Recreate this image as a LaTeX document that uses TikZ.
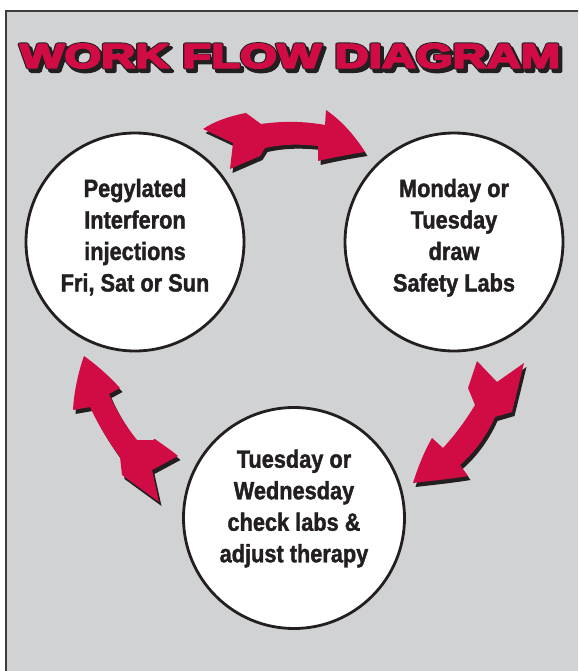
\documentclass[tikz,border=0pt]{standalone}
\usepackage{fontspec}
\usepackage{graphicx}
\usetikzlibrary{calc}
\setmainfont{Liberation Sans}
\newfontfamily\condfont[FakeStretch=0.87, BoldFeatures={FakeBold=1.5}]{Liberation Sans}
\newfontfamily\titlered[BoldFeatures={FakeBold=5}]{Liberation Sans}
\newfontfamily\titleline[BoldFeatures={FakeBold=10}]{Liberation Sans}
\definecolor{wfred}{RGB}{209,12,69}
\definecolor{wfgray}{RGB}{209,210,212}
\definecolor{wfink}{RGB}{35,31,32}
\definecolor{wfframe}{RGB}{60,60,60}
\newcommand\wfTitle[1]{\resizebox{540pt}{24pt}{#1\bfseries WORK FLOW DIAGRAM}}
\newcommand\ArrTop{(203,129) -- (233,143) -- (230,169) -- (260,156) -- (265,148)
  .. controls (283,144) and (300,144) .. (318,146) -- (318,161)
  .. controls (335,157) and (352,154) .. (365,152)
  .. controls (355,136) and (342,121) .. (326,110) -- (325,125)
  .. controls (303,121) and (282,121) .. (261,124) -- (246,113)
  .. controls (230,116) and (215,121) .. (203,129) -- cycle}
\newcommand\ArrRight{(477,361) -- (497,382) -- (524,363) -- (512,412) -- (495,417)
  .. controls (487,435) and (475,452) .. (460,465) -- (468,476)
  .. controls (450,479) and (430,481) .. (413,483)
  .. controls (418,467) and (424,452) .. (432,438) -- (443,448)
  .. controls (455,435) and (466,420) .. (475,405) -- (468,388) -- cycle}
\newcommand\ArrLeft{(84,356) .. controls (98,366) and (110,377) .. (120,388) -- (109,394)
  .. controls (116,410) and (125,425) .. (137,440)
  .. controls (146,440) and (153,441) .. (155,439)
  .. controls (163,445) and (171,450) .. (178,456) -- (152,470) -- (159,502) -- (122,475) -- (120,457)
  .. controls (108,441) and (98,424) .. (90,407) -- (73,410)
  .. controls (74,392) and (78,373) .. (84,356) -- cycle}
\tikzset{
  circ/.style={circle, draw=wfink, line width=2.8pt, fill=white, inner sep=0pt,
    minimum size=#1, text=wfink, align=center,
    font={\condfont\bfseries\fontsize{25pt}{31.5pt}\selectfont}},
  arrshadow/.style={fill=wfink},
  arrbody/.style={fill=wfred},
  titlecopy/.style={inner sep=0pt, text=wfink, line join=round},
  titlemain/.style={inner sep=0pt, text=wfred, line join=round}
}
\begin{document}
\begin{tikzpicture}[x=1pt, y=-1pt]
\useasboundingbox (0,0) rectangle (578,671);
\clip (0,0) rectangle (578,671);
\fill[white] (0,0) rectangle (578,671);
\draw[wfframe, fill=wfgray, line width=2pt] (5.5,11) rectangle (620,720);
% title: shadow, outline, red face
\begin{scope}[line join=round]
\node[titlecopy] (titleshadow) at (293,59.5) {\wfTitle{\titleline}};
\node[titlecopy] (titleoutline) at (290,56) {\wfTitle{\titleline}};
\node[titlemain] (title) at (290,56) {\wfTitle{\titlered}};
\end{scope}
% arrows
\fill[arrshadow, shift={(2.5,4)}] \ArrTop;
\fill[arrbody] \ArrTop;
\fill[arrshadow, shift={(2.5,4)}] \ArrRight;
\fill[arrbody] \ArrRight;
\fill[arrshadow, shift={(2.5,4)}] \ArrLeft;
\fill[arrbody] \ArrLeft;
% circles
\node[circ=218pt] (inj) at (135,242) {\rule{0pt}{19pt}Pegylated\\Interferon\\injections\\Fri, Sat or Sun\rule[-14.5pt]{0pt}{14.5pt}};
\node[circ=218pt] (labs) at (454,242) {\rule{0pt}{19pt}Monday or\\Tuesday\\draw\\Safety Labs\rule[-14.5pt]{0pt}{14.5pt}};
\node[circ=221pt] (check) at (294,518) {\rule{0pt}{19pt}Tuesday or\\Wednesday\\check labs \&\\adjust therapy\rule[-25pt]{0pt}{25pt}};
\end{tikzpicture}
\end{document}
